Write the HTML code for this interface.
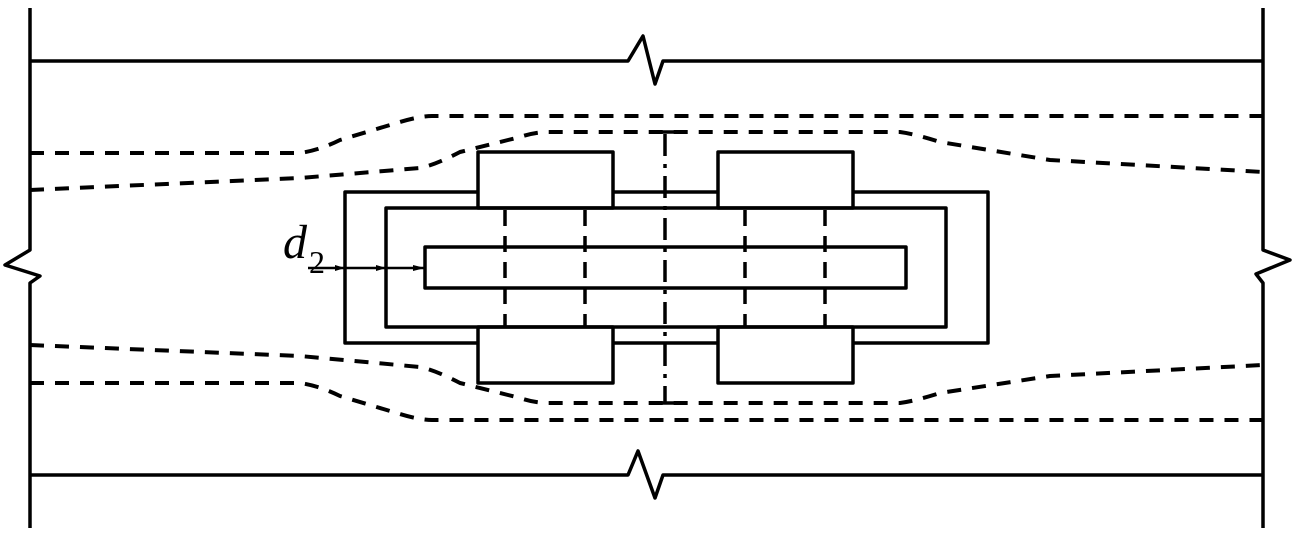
<!DOCTYPE html>
<html><head><style>html,body{margin:0;padding:0;background:#fff;}svg{display:block}</style></head>
<body>
<svg width="1298" height="535" viewBox="0 0 1298 535" xmlns="http://www.w3.org/2000/svg">
<g fill="none" stroke="#000" stroke-width="3.5" stroke-linejoin="round">
<path d="M30 8 V250 L5 265 L40 276 L30 283 V528"/>
<path d="M1263 8 V250 L1290 260 L1256 274 L1263 283 V528"/>
<path d="M30 61 H628 L643 36 L655 84 L663 61 H1263"/>
<path d="M30 475 H628 L638 451 L655 498 L663 475 H1263"/>
<g stroke-dasharray="14 11" stroke-width="4">
<path d="M30 153 H300 Q320 150 340 140 L400 122 Q420 116 432 116 H1263"/>
<path d="M30 190 L300 178 L420 168 Q435 165 460 152 L520 137 Q535 132 548 132 H900 Q915 134 940 142 L1050 160 L1263 172"/>
<path d="M30 345 L300 356 L420 367 Q435 370 460 383 L520 398 Q535 403 548 403 H900 Q915 401 940 393 L1050 376 L1263 365"/>
<path d="M30 383 H300 Q320 386 340 396 L400 414 Q420 420 432 420 H1263"/>
</g>
<path d="M478 192 H345 V343 H478 M613 343 H718 M853 343 H988 V192 H853 M718 192 H613"/>
<rect x="386" y="208" width="560" height="119"/>
<rect x="425" y="247" width="481" height="41"/>
<rect x="478" y="152" width="135" height="56"/>
<rect x="718" y="152" width="135" height="56"/>
<rect x="478" y="327" width="135" height="56"/>
<rect x="718" y="327" width="135" height="56"/>
<g stroke-dasharray="16 10">
<path d="M505 210 V327"/><path d="M585 210 V327"/>
<path d="M745 210 V327"/><path d="M825 210 V327"/>
</g>
<path d="M665 134 V403" stroke-dasharray="22 8 4 8"/>
<path d="M650 132 H680 M650 403 H680"/>
<path d="M308 268 H425" stroke-width="2.5"/>
</g>
<path d="M345 268 l-10 -3 v6 z M386 268 l-10 -3 v6 z M425 268 l-12 -3 v6 z" fill="#000"/>
<text x="283" y="258" font-family="Liberation Serif, serif" font-style="italic" font-size="48">d</text>
<text x="309" y="273" font-family="Liberation Serif, serif" font-size="32">2</text>
</svg>
</body></html>
